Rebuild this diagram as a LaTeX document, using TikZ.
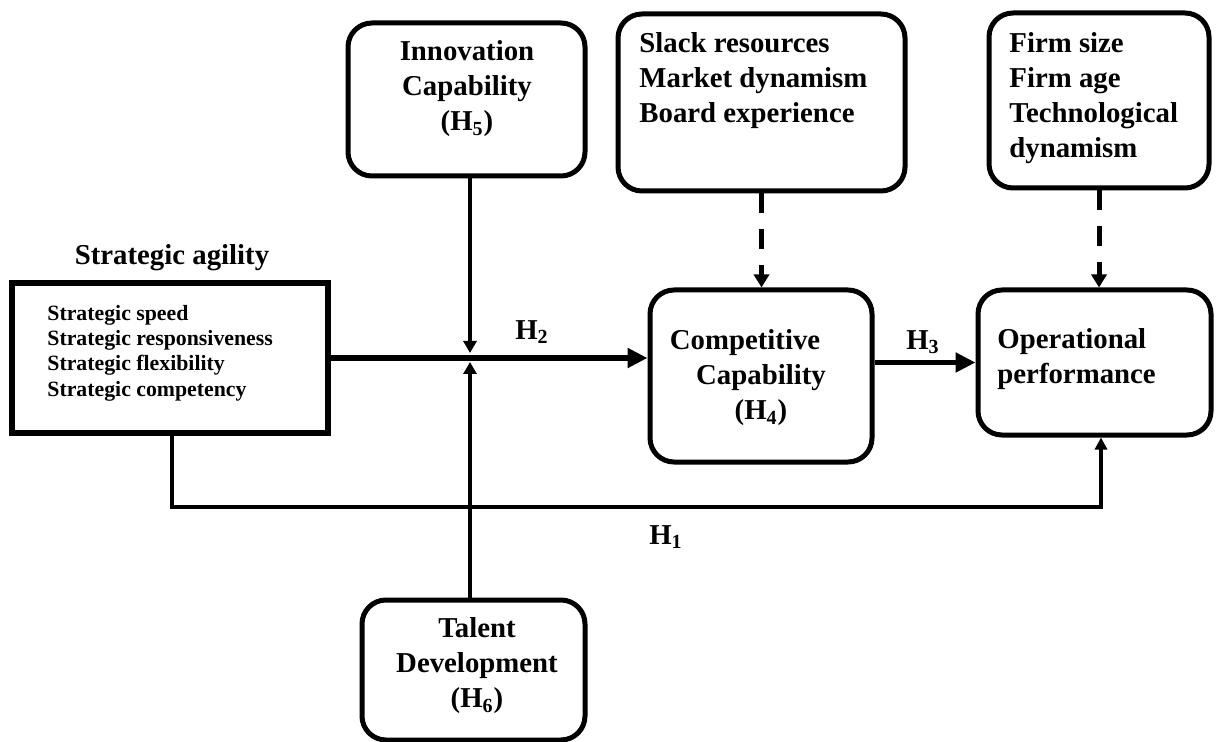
\documentclass[tikz,border=0pt]{standalone}
\usepackage{fontspec}
\setmainfont{Liberation Serif}
\usetikzlibrary{arrows.meta}
\newcommand{\bigtxt}{\fontsize{14.4pt}{17.5pt}\selectfont\bfseries}
\newcommand{\smalltxt}{\fontsize{10.9pt}{12.7pt}\selectfont\bfseries}
\tikzset{
  box/.style={draw, line width=2.5pt, rounded corners=12pt, inner sep=0pt, fill=white},
  sqbox/.style={draw, line width=3pt, inner sep=0pt},
  txt/.style={inner sep=0pt, font=\bigtxt},
  lbl/.style={inner sep=0pt, font=\bigtxt},
  mainarr/.style={line width=2.8pt, -{Triangle[length=10pt,width=9.5pt]}},
  modarr/.style={line width=2pt, -{Triangle[length=6pt,width=6.5pt]}},
  ctrlarr/.style={line width=2.5pt, dash pattern=on 10pt off 8pt, -{Triangle[length=6.5pt,width=7.5pt]}},
}
\begin{document}
\begin{tikzpicture}[x=0.5pt,y=-0.5pt]
\useasboundingbox[fill=white] (0,0) rectangle (1218,742);

% boxes
\node[sqbox, minimum width=158pt, minimum height=75pt] (agil) at (170,358) {};
\node[box, minimum width=118.5pt, minimum height=76.5pt] (inno) at (466.5,99.5) {};
\node[box, minimum width=143.5pt, minimum height=88.5pt] (slack) at (761.5,102.5) {};
\node[box, minimum width=110pt, minimum height=87.5pt] (firm) at (1099,100.5) {};
\node[box, minimum width=111pt, minimum height=86pt] (comp) at (761,376) {};
\node[box, minimum width=116.5pt, minimum height=72.5pt] (oper) at (1094.5,362.5) {};
\node[box, minimum width=111.5pt, minimum height=70pt] (tal) at (473.5,670) {};

% texts
\node[txt] (agtitle) at (172,258) {Strategic agility};
\node[inner sep=0pt, font=\smalltxt, align=left, anchor=west] (agtext) at (47,353)
  {Strategic speed\\Strategic responsiveness\\Strategic flexibility\\Strategic competency};
\node[txt, align=center] (innot) at (467,89) {Innovation\\Capability\\(H\textsubscript{5})};
\node[txt, align=left, anchor=west] (slackt) at (639,81) {Slack resources\\Market dynamism\\Board experience};
\node[txt, align=left, anchor=west] (firmt) at (1009,98.5) {Firm size\\Firm age\\Technological\\dynamism};
\node[txt, align=center] (compt) at (761,378) {Competitive\hspace*{16pt}\\Capability\\(H\textsubscript{4})};
\node[txt, align=left, anchor=west] (opert) at (997,359.5) {Operational\\performance};
\node[txt, align=center] (talt) at (477,666) {Talent\\Development\\(H\textsubscript{6})};

% junction points
\coordinate (jt) at (470,353);
\coordinate (jb) at (470,362);
\coordinate (h1a) at (172,507);
\coordinate (h1b) at (1101,507);

% connectors
\draw[mainarr] (agil.east) -- (agil.east -| comp.west);
\draw[mainarr] (oper.west -| comp.east) -- (oper.west);
\draw[modarr] (inno.south -| jt) -- (jt);
\draw[modarr] (tal.north -| jb) -- (jb);
\draw[line width=2pt, -{Triangle[length=6pt,width=6pt]}] (agil.south -| h1a) -- (h1a) -- (h1b) -- (oper.south -| h1b);
\draw[ctrlarr] (slack.south) -- (slack.south |- comp.north);
\draw[ctrlarr] (firm.south) -- (firm.south |- oper.north);

% labels
\node[lbl] (h2) at (532,332) {H\textsubscript{2}};
\node[lbl] (h3) at (923,342) {H\textsubscript{3}};
\node[lbl] (h1) at (666,537) {H\textsubscript{1}};
\end{tikzpicture}
\end{document}
